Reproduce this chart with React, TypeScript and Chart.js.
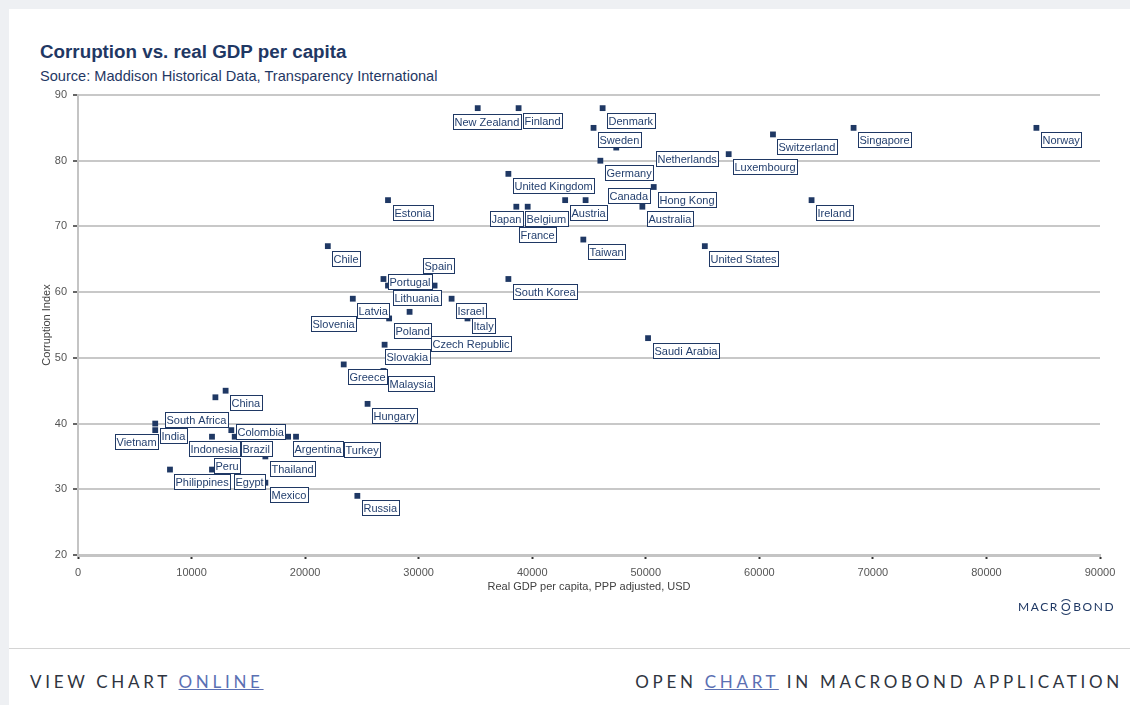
import React, { useEffect, useRef } from "react";
import { Chart, registerables } from "chart.js";

Chart.register(...registerables);

// Country names, real GDP per capita (PPP, USD) and corruption index
const countries = [
  "New Zealand", "Finland", "Denmark", "Sweden", "Norway", "Singapore", "Switzerland",
  "Netherlands", "Luxembourg", "Germany", "United Kingdom", "Hong Kong", "Canada", "Austria",
  "Estonia", "Ireland", "Japan", "Belgium", "France", "Australia", "Taiwan", "United States",
  "Chile", "South Korea", "Portugal", "Lithuania", "Spain", "Latvia", "Israel", "Slovenia",
  "Poland", "Italy", "Czech Republic", "Slovakia", "Saudi Arabia", "Greece", "Malaysia",
  "China", "South Africa", "Hungary", "India", "Vietnam", "Colombia", "Indonesia", "Brazil",
  "Argentina", "Turkey", "Thailand", "Philippines", "Peru", "Egypt", "Mexico", "Russia",
];

const gdpPerCapita = [
  35200, 38800, 46200, 45400, 84400, 68300, 61200,
  47400, 57300, 46000, 37900, 50700, 44700, 42900,
  27300, 64600, 38600, 39600, 38400, 49700, 44500, 55200,
  22000, 37900, 26900, 27300, 31400, 24200, 32900, 29200,
  27400, 34300, 30700, 27000, 50200, 23400, 26900,
  13000, 12100, 25500, 6800, 6800, 13500, 11800, 13800,
  18500, 19200, 16500, 8100, 11800, 13300, 16500, 24600,
];

const corruptionIndex = [
  88, 88, 88, 85, 85, 85, 84,
  82, 81, 80, 78, 76, 74, 74,
  74, 74, 73, 73, 71, 73, 68, 67,
  67, 62, 62, 61, 61, 59, 59, 57,
  56, 56, 54, 52, 53, 49, 48,
  45, 44, 43, 40, 39, 39, 38, 38,
  38, 38, 35, 33, 33, 33, 31, 29,
];

// Axis ranges and steps
const xMin = 0;
const xMax = 90000;
const xStep = 10000;
const yMin = 20;
const yMax = 90;
const yStep = 10;

const xAxisTitle = "Real GDP per capita, PPP adjusted, USD";
const yAxisTitle = "Corruption Index";

// Label box placement relative to its marker: [dx, dy, anchor]
// anchor "l": dx is the box's left edge; "r": dx is the box's right edge
const defaultPlacement: [number, number, "l" | "r"] = [4.5, 4.5, "l"];
const labelPlacement: Record<string, [number, number, "l" | "r"]> = {
  "New Zealand": [43.7, 5.5, "r"],
  "Netherlands": [40, 3, "l"],
  "Canada": [22.4, -11.7, "l"],
  "Japan": [6.7, 4, "r"],
  "Belgium": [-2.6, 4, "l"],
  "France": [4.5, 7.2, "l"],
  "Portugal": [5, -5, "l"],
  "Spain": [-11.7, -28, "l"],
  "Slovenia": [-54, 4.5, "r"],
  "Italy": [5, 0, "l"],
  "Slovakia": [0, 4.6, "l"],
  "South Africa": [12.6, 15, "r"],
  "Vietnam": [2.3, 4.3, "r"],
  "Colombia": [4.3, -5.7, "l"],
  "Indonesia": [28, 4.3, "r"],
  "Brazil": [6.3, 4.3, "l"],
  "Turkey": [48.3, 5, "l"],
  "Peru": [1.7, -11.6, "l"],
};

const NAVY = "#1f3864";
const FONT = 'Arial, "Liberation Sans", sans-serif';

const countryLabels = {
  id: "countryLabels",
  afterDatasetsDraw(chart: any) {
    const ctx = chart.ctx as CanvasRenderingContext2D;
    const meta = chart.getDatasetMeta(0);
    ctx.save();
    ctx.font = `11px ${FONT}`;
    ctx.textBaseline = "middle";
    meta.data.forEach((pt: any, i: number) => {
      const name = countries[i];
      const [dx, dy, anchor] = labelPlacement[name] ?? defaultPlacement;
      const w = Math.round(ctx.measureText(name).width + 3);
      const h = 15;
      const left = Math.round(anchor === "r" ? pt.x + dx - w : pt.x + dx);
      const top = Math.round(pt.y + dy);
      ctx.fillStyle = "#ffffff";
      ctx.fillRect(left, top, w, h);
      ctx.strokeStyle = NAVY;
      ctx.lineWidth = 1;
      ctx.strokeRect(left + 0.5, top + 0.5, w, h);
      ctx.fillStyle = "#233f6e";
      ctx.fillText(name, left + 1.5, top + h / 2 + 1);
    });
    ctx.restore();
  },
};

function ScatterChart() {
  const ref = useRef<HTMLCanvasElement | null>(null);

  useEffect(() => {
    if (!ref.current) return;
    const points = gdpPerCapita.map((x, i) => ({ x, y: corruptionIndex[i] }));
    const chart = new Chart(ref.current, {
      type: "scatter",
      data: {
        datasets: [
          {
            data: points,
            pointStyle: "rect",
            pointRadius: 4.1,
            pointBorderWidth: 0,
            backgroundColor: NAVY,
            borderColor: NAVY,
          },
        ],
      },
      options: {
        responsive: false,
        animation: false,
        events: [],
        layout: { padding: { left: 40, top: 95, right: 30, bottom: 26 } },
        plugins: {
          legend: { display: false },
          tooltip: { enabled: false },
        },
        scales: {
          x: {
            type: "linear",
            min: xMin,
            max: xMax,
            ticks: {
              stepSize: xStep,
              callback: (v: any) => String(v),
              font: { size: 11, family: FONT },
              color: "#555555",
              padding: 7,
              maxRotation: 0,
            },
            grid: {
              drawOnChartArea: false,
              drawTicks: true,
              tickLength: 4,
              tickColor: "#333333",
              tickWidth: 2,
            },
            border: { color: "#c4c4c4", width: 3 },
            title: {
              display: true,
              text: xAxisTitle,
              font: { size: 11, family: FONT },
              color: "#404040",
              padding: 0,
            },
            afterFit: (s: any) => {
              s.height = 39;
            },
          },
          y: {
            type: "linear",
            min: yMin,
            max: yMax,
            ticks: {
              stepSize: yStep,
              font: { size: 11, family: FONT },
              color: "#555555",
              padding: 6,
            },
            grid: {
              color: "#c8c8c8",
              lineWidth: 2,
              tickLength: 5,
              tickColor: "#333333",
              tickWidth: 1.5,
            },
            border: { color: "#c4c4c4", width: 2 },
            title: {
              display: true,
              text: yAxisTitle,
              font: { size: 11, family: FONT },
              color: "#404040",
              padding: 0,
            },
            afterFit: (s: any) => {
              s.width = 38;
            },
          },
        },
      },
      plugins: [countryLabels],
    });
    return () => chart.destroy();
  }, []);

  return (
    <canvas
      ref={ref}
      width={1130}
      height={620}
      style={{ position: "absolute", left: 0, top: 0, width: 1130, height: 620 }}
    />
  );
}

export default function App() {
  const footerFont = 'Lato, "Open Sans", sans-serif';
  return (
    <div
      style={{
        position: "absolute",
        left: 0,
        top: 0,
        width: 1130,
        height: 705,
        background: "#eef0f3",
        overflow: "hidden",
        fontFamily: FONT,
      }}
    >
      <div style={{ position: "absolute", left: 9, top: 9, right: 0, bottom: 0, background: "#ffffff" }} />
      <div
        style={{
          position: "absolute",
          left: 40,
          top: 41,
          fontSize: 18.8,
          lineHeight: "22px",
          fontWeight: 700,
          color: NAVY,
          whiteSpace: "nowrap",
        }}
      >
        Corruption vs. real GDP per capita
      </div>
      <div
        style={{
          position: "absolute",
          left: 40,
          top: 67,
          fontSize: 14.6,
          lineHeight: "18px",
          color: NAVY,
          whiteSpace: "nowrap",
        }}
      >
        Source: Maddison Historical Data, Transparency International
      </div>
      <ScatterChart />
      <div
        style={{
          position: "absolute",
          left: 1018,
          top: 599,
          fontFamily: footerFont,
          fontSize: 12,
          lineHeight: "16px",
          letterSpacing: 1.6,
          color: NAVY,
          whiteSpace: "nowrap",
        }}
      >
        MACR
        <span
          style={{
            display: "inline-block",
            borderTop: `1px solid ${NAVY}`,
            borderBottom: `1px solid ${NAVY}`,
            borderLeft: "1px solid transparent",
            borderRight: "1px solid transparent",
            borderRadius: "50%",
            lineHeight: "12px",
            padding: "1px 0 1px 1px",
            margin: "-2px 0",
          }}
        >
          O
        </span>
        BOND
      </div>
      <div style={{ position: "absolute", left: 9, right: 0, top: 648, height: 1, background: "#d4d4d4" }} />
      <div
        style={{
          position: "absolute",
          left: 30,
          top: 672,
          fontFamily: footerFont,
          fontSize: 17,
          lineHeight: "20px",
          letterSpacing: 3.7,
          color: "#2f3440",
          whiteSpace: "nowrap",
        }}
      >
        VIEW CHART <span style={{ color: "#5b70b3", textDecoration: "underline" }}>ONLINE</span>
      </div>
      <div
        style={{
          position: "absolute",
          right: 7,
          top: 672,
          fontFamily: footerFont,
          fontSize: 17,
          lineHeight: "20px",
          letterSpacing: 3.7,
          color: "#2f3440",
          whiteSpace: "nowrap",
        }}
      >
        OPEN <span style={{ color: "#5b70b3", textDecoration: "underline" }}>CHART</span> IN MACROBOND APPLICATION
      </div>
    </div>
  );
}
